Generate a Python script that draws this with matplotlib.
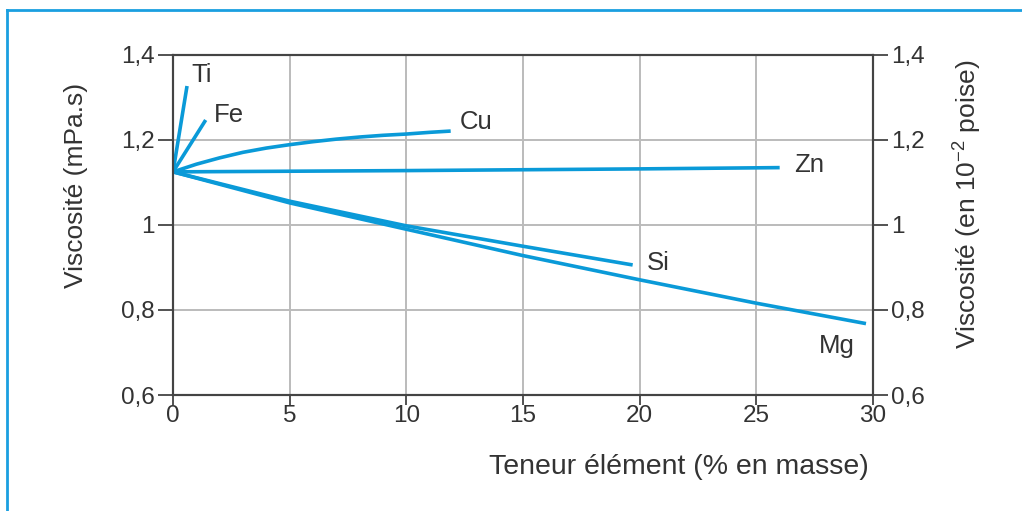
import matplotlib
matplotlib.use("Agg")
from matplotlib import pyplot as plt
from matplotlib.lines import Line2D
from matplotlib.ticker import FixedLocator, FuncFormatter

plt.rcParams['font.family'] = ['Liberation Sans', 'DejaVu Sans']
plt.rcParams['mathtext.fontset'] = 'custom'
plt.rcParams['mathtext.rm'] = 'Liberation Sans'
plt.rcParams['mathtext.it'] = 'Liberation Sans'

BLUE = '#0a9ad8'
TXT = '#333333'

# teneur (% masse) -> viscosite (mPa.s)
ti_x = [0, 0.6]
ti_y = [1.125, 1.327]
fe_x = [0, 1.4]
fe_y = [1.125, 1.247]
cu_x = [0, 1, 2, 3, 4, 5, 6, 7, 8, 9, 10, 11, 11.9]
cu_y = [1.125, 1.143, 1.158, 1.171, 1.181, 1.189, 1.196, 1.202, 1.207, 1.211, 1.214, 1.218, 1.221]
zn_x = [0, 10, 20, 26.0]
zn_y = [1.125, 1.128, 1.132, 1.135]
si_x = [0, 5, 10, 15, 19.7]
si_y = [1.125, 1.056, 0.998, 0.950, 0.906]
mg_x = [0, 5, 10, 15, 20, 25, 29.7]
mg_y = [1.125, 1.052, 0.990, 0.928, 0.871, 0.816, 0.768]

series = [(ti_x, ti_y), (fe_x, fe_y), (cu_x, cu_y), (zn_x, zn_y), (si_x, si_y), (mg_x, mg_y)]
names = ['Ti', 'Fe', 'Cu', 'Zn', 'Si', 'Mg']
name_pos = [(0.8, 1.353), (1.75, 1.259), (12.3, 1.242), (26.6, 1.141), (20.3, 0.911), (27.7, 0.716)]

xticks = [0, 5, 10, 15, 20, 25, 30]
yticks = [0.6, 0.8, 1.0, 1.2, 1.4]


def fmt(v, pos):
    s = ('%.1f' % v).rstrip('0').rstrip('.')
    return s.replace('.', ',')


fig = plt.figure(figsize=(10.22, 5.11), dpi=100)
ax = fig.add_axes([0.1693, 0.2270, 0.6849, 0.6654])

for (xs, ys) in series:
    ax.plot(xs, ys, color=BLUE, linewidth=2.6, solid_capstyle='butt')
for name, (px, py) in zip(names, name_pos):
    ax.text(px, py, name, fontsize=18.5, color=TXT, ha='left', va='center')

ax.set_xlim(0, 30)
ax.set_ylim(0.6, 1.4)
ax.xaxis.set_major_locator(FixedLocator(xticks))
ax.yaxis.set_major_locator(FixedLocator(yticks))
ax.yaxis.set_major_formatter(FuncFormatter(fmt))
ax.grid(True, color='#bbbbbb', linewidth=1.4)
ax.set_axisbelow(True)
for sp in ax.spines.values():
    sp.set_color('#444444')
    sp.set_linewidth(1.5)
ax.tick_params(axis='both', direction='out', length=11, width=1.3, color='#444444',
               labelsize=17.5, labelcolor=TXT, pad=2)
ax.tick_params(axis='x', length=7, pad=0)

ax2 = ax.twinx()
ax2.set_ylim(0.6, 1.4)
ax2.yaxis.set_major_locator(FixedLocator(yticks))
ax2.yaxis.set_major_formatter(FuncFormatter(fmt))
ax2.tick_params(axis='y', direction='out', length=11, width=1.3, color='#444444',
                labelsize=17.5, labelcolor=TXT, pad=2)
for sp in ax2.spines.values():
    sp.set_color('#444444')
    sp.set_linewidth(1.5)

fig.text(76 / 1022, 1 - 185 / 511, 'Viscosité (mPa.s)', rotation=90, fontsize=19,
         color=TXT, ha='center', va='center')
fig.text(968 / 1022, 1 - 204 / 511, r'Viscosité (en 10$^{-2}$ poise)', rotation=90,
         fontsize=19, color=TXT, ha='center', va='center')
fig.text(679 / 1022, 1 - 467 / 511, 'Teneur élément (% en masse)', fontsize=20.5,
         color=TXT, ha='center', va='center')

# cadre bleu (haut et gauche)
fig.add_artist(Line2D([7 / 1022, 7 / 1022], [0, 1 - 10 / 511], transform=fig.transFigure,
                      color='#1a9fe0', linewidth=2))
fig.add_artist(Line2D([7 / 1022, 1], [1 - 10 / 511, 1 - 10 / 511], transform=fig.transFigure,
                      color='#1a9fe0', linewidth=2))

fig.savefig('out.png', dpi=100)
plt.close()
